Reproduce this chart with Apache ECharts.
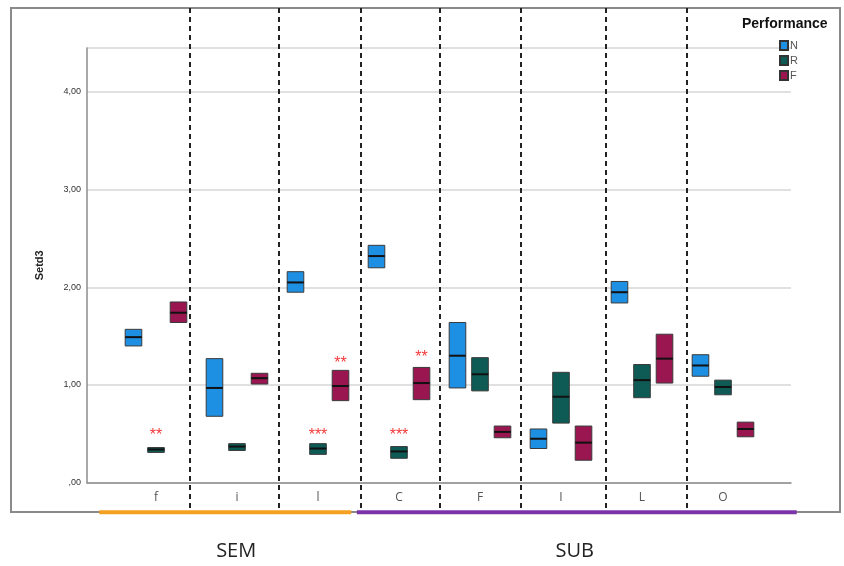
<!DOCTYPE html>
<html>
<head>
<meta charset="utf-8">
<script src="https://cdn.jsdelivr.net/npm/echarts@6/dist/echarts.min.js"></script>
<style>html,body{margin:0;padding:0;background:#fff}#c{width:844px;height:566px}</style>
</head>
<body>
<div id="c"></div>
<script>
// ---- data ----
var categories = ['f', 'i', 'l', 'C', 'F', 'I', 'L', 'O'];
var seriesNames = ['N', 'R', 'F'];
// box: lower edge (Q1), median, upper edge (Q3)
var nLow  = [1.40, 0.68, 1.95, 2.20, 0.97, 0.35, 1.84, 1.09];
var nMed  = [1.49, 0.97, 2.05, 2.32, 1.30, 0.45, 1.95, 1.20];
var nHigh = [1.57, 1.27, 2.16, 2.43, 1.64, 0.55, 2.06, 1.31];
var rLow  = [0.31, 0.33, 0.29, 0.25, 0.94, 0.61, 0.87, 0.90];
var rMed  = [0.34, 0.37, 0.35, 0.32, 1.11, 0.88, 1.05, 0.98];
var rHigh = [0.36, 0.40, 0.40, 0.37, 1.28, 1.13, 1.21, 1.05];
var fLow  = [1.64, 1.01, 0.84, 0.85, 0.46, 0.23, 1.02, 0.47];
var fMed  = [1.74, 1.07, 0.99, 1.02, 0.52, 0.41, 1.27, 0.55];
var fHigh = [1.85, 1.12, 1.15, 1.18, 0.58, 0.58, 1.52, 0.62];
var yTicks = [0, 1, 2, 3, 4];
// significance annotations: category index, series index, y value, text
var starCat    = [0, 2, 2, 3, 3];
var starSeries = [1, 1, 2, 1, 2];
var starY      = [0.53, 0.53, 1.27, 0.53, 1.33];
var starText   = ['**', '***', '**', '***', '**'];
// dashed separators (position in category units from first category)
var dividerPos = [0.42, 1.52, 2.53, 3.5, 4.5, 5.55, 6.55];
// groups along the bottom
var groupNames = ['SEM', 'SUB'];
var groupStart = [-0.70, 2.48];
var groupEnd   = [2.41, 7.91];
var groupLabelPos = [0.99, 5.17];

// ---- styles ----
var colors = ['#1e90e4', '#0e5b55', '#9a1650'];
var offsets = [-0.278, 0, 0.278];
var Y_MAX = 4.45;

function fmtY(v) {
  if (v === 0) return ',00';
  return v.toFixed(2).replace('.', ',');
}

function boxRenderer(si) {
  return function (params, api) {
    var ci = api.value(0);
    var lo = api.coord([ci, api.value(1)]);
    var md = api.coord([ci, api.value(2)]);
    var hi = api.coord([ci, api.value(3)]);
    var band = api.size([1, 0])[0];
    var cx = md[0] + offsets[si] * band;
    var w = band * 0.205;
    return {
      type: 'group',
      children: [
        { type: 'rect', shape: { x: cx - w / 2, y: hi[1], width: w, height: lo[1] - hi[1] },
          style: { fill: colors[si], stroke: '#3a3a3a', lineWidth: 1 } },
        { type: 'line', shape: { x1: cx - w / 2, y1: md[1], x2: cx + w / 2, y2: md[1] },
          style: { stroke: '#111', lineWidth: 2 } }
      ]
    };
  };
}

var lows = [nLow, rLow, fLow], meds = [nMed, rMed, fMed], highs = [nHigh, rHigh, fHigh];
var series = seriesNames.map(function (name, si) {
  return {
    name: name,
    type: 'custom',
    xAxisIndex: 1, yAxisIndex: 1,
    itemStyle: { color: colors[si], borderColor: '#333', borderWidth: 1 },
    renderItem: boxRenderer(si),
    encode: { x: 0, y: [1, 2, 3] },
    data: categories.map(function (c, i) { return [i, lows[si][i], meds[si][i], highs[si][i]]; }),
    z: 5
  };
});

// dividers
series.push({
  type: 'custom', xAxisIndex: 1, yAxisIndex: 1, clip: false, silent: true, z: 3,
  renderItem: function (params, api) {
    var p = api.value(0);
    var base = api.coord([0, 0]);
    var band = api.size([1, 0])[0];
    var x = Math.round(base[0] + p * band);
    return { type: 'line', shape: { x1: x, y1: 8, x2: x, y2: base[1] + 29 },
      style: { stroke: '#222', lineWidth: 2, lineDash: [5, 4] } };
  },
  data: dividerPos.map(function (p) { return [p, 0]; })
});

// stars
series.push({
  type: 'custom', xAxisIndex: 1, yAxisIndex: 1, clip: false, silent: true, z: 6,
  renderItem: function (params, api) {
    var ci = api.value(0), si = api.value(1);
    var pt = api.coord([ci, api.value(2)]);
    var band = api.size([1, 0])[0];
    return { type: 'text', x: pt[0] + offsets[si] * band, y: pt[1] + 5,
      style: { text: starText[params.dataIndex], fill: '#f23a3a', font: '16px "Liberation Sans"',
        align: 'center', verticalAlign: 'middle' } };
  },
  data: starCat.map(function (c, k) { return [c, starSeries[k], starY[k]]; })
});

// group lines and labels
var groupColors = ['#f4a020', '#7b35a8'];
series.push({
  type: 'custom', xAxisIndex: 1, yAxisIndex: 1, clip: false, silent: true, z: 4,
  renderItem: function (params, api) {
    var k = params.dataIndex;
    var base = api.coord([0, 0]);
    var band = api.size([1, 0])[0];
    var x1 = base[0] + groupStart[k] * band;
    var x2 = base[0] + groupEnd[k] * band;
    var xl = base[0] + groupLabelPos[k] * band;
    var yl = base[1] + 29.5;
    return { type: 'group', children: [
      { type: 'line', shape: { x1: x1, y1: yl, x2: x2, y2: yl }, style: { stroke: groupColors[k], lineWidth: 4 } },
      { type: 'text', x: xl, y: base[1] + 69, style: { text: groupNames[k], fill: '#222',
        font: '20px "Open Sans"', align: 'center', verticalAlign: 'middle' } }
    ] };
  },
  data: groupNames.map(function (g, k) { return [groupStart[k], 0]; })
});

var chart = echarts.init(document.getElementById('c'), null, { renderer: 'canvas' });
chart.setOption({
  animation: false,
  backgroundColor: '#fff',
  graphic: [
    { type: 'rect', shape: { x: 11, y: 8, width: 829, height: 504 },
      style: { fill: 'none', stroke: '#8a8a8a', lineWidth: 2 }, z: 0 }
  ],
  title: {
    text: 'Performance', left: 737, top: 12,
    textStyle: { fontSize: 14, fontWeight: 'bold', color: '#111', fontFamily: 'Liberation Sans' }
  },
  legend: {
    orient: 'vertical', left: 774, top: 35,
    data: seriesNames,
    icon: 'rect', itemWidth: 8, itemHeight: 9, itemGap: 4,
    textStyle: { fontSize: 11, color: '#555', fontFamily: 'Liberation Sans', padding: [0, 0, 0, -3] }
  },
  grid: [
    { left: 87, right: 53, top: 48, bottom: 83.3 },
    { left: 115.5, right: 80.5, top: 48, bottom: 83.3 }
  ],
  xAxis: [
    { type: 'value', gridIndex: 0, min: 0, max: 1,
      axisLine: { show: true, lineStyle: { color: '#8c8c8c', width: 1.5 } },
      axisTick: { show: false }, axisLabel: { show: false }, splitLine: { show: false } },
    { type: 'category', gridIndex: 1, data: categories, boundaryGap: true,
      axisLine: { show: false }, axisTick: { show: false },
      axisLabel: { margin: 9, fontSize: 12, color: '#555', fontFamily: 'Open Sans' },
      splitLine: { show: false } }
  ],
  yAxis: [
    { type: 'value', gridIndex: 0, min: 0, max: Y_MAX, interval: 1,
      name: 'Setd3', nameLocation: 'middle', nameGap: 42,
      nameTextStyle: { fontSize: 11, fontWeight: 'bold', color: '#222', fontFamily: 'Liberation Sans' },
      axisLine: { show: true, lineStyle: { color: '#8c8c8c', width: 1.5 } },
      axisTick: { show: false },
      axisLabel: { formatter: fmtY, fontSize: 9, color: '#333', margin: 6, fontFamily: 'Liberation Sans',
        customValues: yTicks },
      splitLine: { show: true, lineStyle: { color: '#d6d6d6', width: 1.5 } } },
    { type: 'value', gridIndex: 1, min: 0, max: Y_MAX, show: false, splitLine: { show: false } }
  ],
  series: series
});
</script>
</body>
</html>
